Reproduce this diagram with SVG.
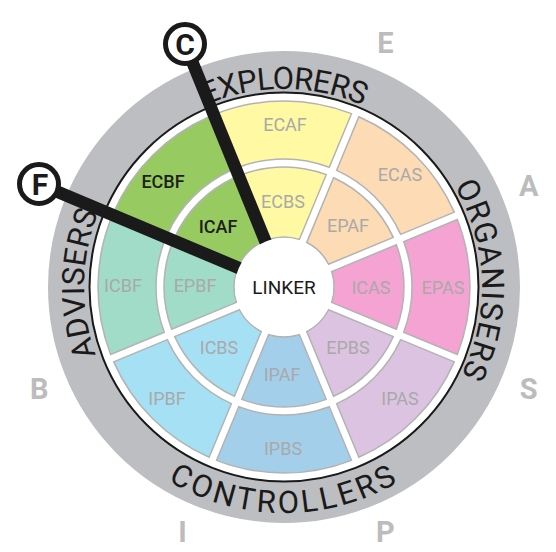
<svg xmlns="http://www.w3.org/2000/svg" width="556" height="552" viewBox="0 0 556 552">
<style>
.seg{stroke:#b3b3b3;stroke-width:1.5}
.lbl{font-family:Roboto,"Liberation Sans",sans-serif;font-size:18px;fill:#a9a9a9;text-anchor:middle}
.dark{fill:#1e1e1e;font-weight:500}
.ring{font-family:Roboto,"Liberation Sans",sans-serif;font-size:31px;fill:#1a1a1a}
.out{font-family:Roboto,"Liberation Sans",sans-serif;font-weight:700;font-size:29px;fill:#bcbcbc;text-anchor:middle}
.bar{stroke:#1a1a1a;stroke-width:12.5;fill:none}
.badge circle{fill:#fff;stroke:#1a1a1a;stroke-width:5}
.badge text{font-family:Roboto,"Liberation Sans",sans-serif;font-weight:700;font-size:30px;fill:#1a1a1a;text-anchor:middle}
.yel{fill:#fff9a4}.pea{fill:#fcdbb5}.pnk{fill:#f5a3d2}.lav{fill:#dcc3e1}
.blu{fill:#a3cfeb}.sky{fill:#a6e0f5}.tea{fill:#a1dcc9}.grn{fill:#97cb62}
</style>
<defs>
<path id="segO" d="M -67.47 -173.33 A 186 186 0 0 1 67.47 -173.33 L 45.26 -119.73 A 128 128 0 0 0 -45.26 -119.73 Z"/>
<path id="segI" d="M -42.20 -112.33 A 120 120 0 0 1 42.20 -112.33 L 15.38 -47.58 A 50 50 0 0 0 -15.38 -47.58 Z"/>
<path id="pTop" d="M 112.5 188 A 198 198 0 0 1 455.5 188"/>
<path id="pRight" d="M 377 112.2 A 198 198 0 0 1 388.9 454.9"/>
<path id="pLeft" d="M 181 458.4 A 200 200 0 0 1 187 112.1"/>
<path id="pBottom" d="M 88.3 400 A 226 226 0 0 0 479.7 400"/>
</defs>
<rect width="556" height="552" fill="#fff"/>
<g id="band">
<circle cx="284" cy="287" r="215" fill="none" stroke="#bdbec1" stroke-width="42"/>
<circle cx="284" cy="287" r="194.5" fill="none" stroke="#1a1a1a" stroke-width="2"/>
<text class="ring" letter-spacing="-0.8"><textPath href="#pTop" startOffset="50%" text-anchor="middle">EXPLORERS</textPath></text>
<text class="ring" letter-spacing="1.2"><textPath href="#pRight" startOffset="50%" text-anchor="middle">ORGANISERS</textPath></text>
<text class="ring" letter-spacing="0.5"><textPath href="#pLeft" startOffset="50%" text-anchor="middle">ADVISERS</textPath></text>
<text class="ring" letter-spacing="3"><textPath href="#pBottom" startOffset="50%" text-anchor="middle">CONTROLLERS</textPath></text>
</g>
<g id="ECAF"><use href="#segO" class="seg yel" transform="translate(284 287)"/><text class="lbl" x="285" y="131">ECAF</text></g>
<g id="ECBS"><use href="#segI" class="seg yel" transform="translate(284 287)"/><text class="lbl" x="283" y="208">ECBS</text></g>
<g id="ECAS"><use href="#segO" class="seg pea" transform="translate(284 287) rotate(45)"/><text class="lbl" x="400" y="181">ECAS</text></g>
<g id="EPAF"><use href="#segI" class="seg pea" transform="translate(284 287) rotate(45)"/><text class="lbl" x="348" y="232">EPAF</text></g>
<g id="EPAS"><use href="#segO" class="seg pnk" transform="translate(284 287) rotate(90)"/><text class="lbl" x="443" y="294">EPAS</text></g>
<g id="ICAS"><use href="#segI" class="seg pnk" transform="translate(284 287) rotate(90)"/><text class="lbl" x="371" y="294">ICAS</text></g>
<g id="IPAS"><use href="#segO" class="seg lav" transform="translate(284 287) rotate(135)"/><text class="lbl" x="400" y="405">IPAS</text></g>
<g id="EPBS"><use href="#segI" class="seg lav" transform="translate(284 287) rotate(135)"/><text class="lbl" x="348" y="354">EPBS</text></g>
<g id="IPBS"><use href="#segO" class="seg blu" transform="translate(284 287) rotate(180)"/><text class="lbl" x="283" y="455">IPBS</text></g>
<g id="IPAF"><use href="#segI" class="seg blu" transform="translate(284 287) rotate(180)"/><text class="lbl" x="282" y="381">IPAF</text></g>
<g id="IPBF"><use href="#segO" class="seg sky" transform="translate(284 287) rotate(225)"/><text class="lbl" x="167" y="405">IPBF</text></g>
<g id="ICBS"><use href="#segI" class="seg sky" transform="translate(284 287) rotate(225)"/><text class="lbl" x="219" y="354">ICBS</text></g>
<g id="ICBF"><use href="#segO" class="seg tea" transform="translate(284 287) rotate(270)"/><text class="lbl" x="123" y="292">ICBF</text></g>
<g id="EPBF"><use href="#segI" class="seg tea" transform="translate(284 287) rotate(270)"/><text class="lbl" x="195" y="292">EPBF</text></g>
<g id="ECBF"><use href="#segO" class="seg grn" transform="translate(284 287) rotate(315)"/><text class="lbl dark" x="163" y="188">ECBF</text></g>
<g id="ICAF"><use href="#segI" class="seg grn" transform="translate(284 287) rotate(315)"/><text class="lbl dark" x="218" y="233">ICAF</text></g>
<g id="connectors">
<line class="bar" x1="284" y1="287" x2="185" y2="44"/>
<line class="bar" x1="284" y1="287" x2="39" y2="184"/>
</g>
<g id="LINKER"><circle cx="284" cy="287" r="49" fill="#fff"/><text class="lbl" x="284" y="294" style="fill:#1a1a1a;font-size:19px">LINKER</text></g>
<g id="C" class="badge"><circle cx="185" cy="44" r="19.5"/><text x="185" y="55">C</text></g>
<g id="F" class="badge"><circle cx="39" cy="184" r="19.5"/><text x="40" y="195">F</text></g>
<g id="letters">
<text class="out" x="385.4" y="52.5">E</text>
<text class="out" x="528.8" y="196">A</text>
<text class="out" x="528.8" y="398.7">S</text>
<text class="out" x="385.4" y="542">P</text>
<text class="out" x="182.6" y="542">I</text>
<text class="out" x="39.2" y="398.7">B</text>
</g>
</svg>
